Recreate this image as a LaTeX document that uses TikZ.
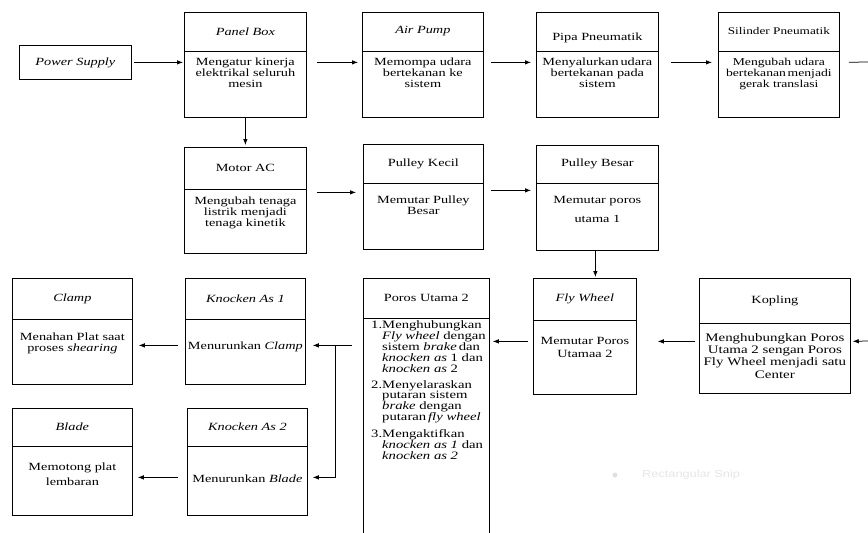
\documentclass[tikz,border=0pt]{standalone}
\usepackage{fontspec}
\setmainfont{Liberation Serif}[FakeStretch=1.3]
\newfontfamily\snipfont{Liberation Sans}[FakeStretch=1.25]
\usetikzlibrary{arrows.meta,calc}
\newcommand{\fsz}[2]{\fontsize{#1}{#2}\selectfont}
\tikzset{
  box/.style={draw, line width=0.75pt, inner sep=0pt, rectangle},
  divl/.style={line width=0.75pt},
  ttl/.style={inner sep=0pt, font=\fsz{11}{11}},
  bdy/.style={inner sep=0pt, align=center, font=\fsz{11}{11}},
  ln/.style={line width=0.75pt},
  arr/.style={line width=0.75pt, -{Latex[length=6pt,width=4.5pt]}},
}
\newcommand{\myhead}[7]{%
  \node[box, minimum width=#4, minimum height=#5, anchor=north west] (#1) at (#2,#3) {};
  \draw[divl] ([yshift=-#6]#1.north west) -- ([yshift=-#6]#1.north east);
  \node[ttl] (#1-t) at ([yshift=-#6/2]#1.north) {#7};
}
\newcommand{\mybox}[9]{%
  \myhead{#1}{#2}{#3}{#4}{#5}{#6}{#7}
  \node[bdy, anchor=north] (#1-b) at ([yshift=-#6-#9]#1.north) {#8};
}
\begin{document}
\begin{tikzpicture}[x=1pt,y=-1pt]
\useasboundingbox (0,0) rectangle (868,533);
% top row
\node[box, minimum width=112, minimum height=34, anchor=north west, font=\fsz{11}{11}\itshape] (ps) at (19,45) {Power Supply};
\mybox{panel}{184}{12}{122}{105}{39}{\textit{Panel Box}}{Mengatur kinerja\\elektrikal seluruh\\mesin}{7}
\mybox{air}{362}{12}{121}{105}{39}{\textit{Air Pump}}{Memompa udara\\bertekanan ke\\sistem}{7}
\mybox{pipa}{536}{12}{122}{105}{39}{\raisebox{-9pt}[0pt][0pt]{Pipa Pneumatik}}{Menyalurkan\,udara\\bertekanan pada\\sistem}{7}
\begin{scope}[ttl/.append style={font=\fsz{10.2}{11}}, bdy/.append style={font=\fsz{10.5}{11}}]
\mybox{sil}{718}{12}{121}{105}{39}{Silinder Pneumatik}{Mengubah udara\\bertekanan\,menjadi\\gerak translasi}{7}
\end{scope}
% middle row
\mybox{motor}{184}{147}{122}{106}{42}{Motor AC}{Mengubah tenaga\\listrik menjadi\\tenaga kinetik}{8}
\mybox{kecil}{363}{144}{120}{105}{39}{Pulley Kecil}{Memutar Pulley\\Besar}{13}
\begin{scope}[bdy/.append style={font=\fsz{11}{19}}]
\mybox{besar}{536}{145}{122}{105}{38}{Pulley Besar}{Memutar poros\\utama 1}{13}
\end{scope}
% bottom rows
\mybox{clamp}{12}{278}{120}{106}{41}{\textit{Clamp}}{Menahan Plat saat\\proses \textit{shearing}}{14}
\mybox{kone}{185}{278}{120}{106}{41}{\textit{Knocken As 1}}{Menurunkan \textit{Clamp}}{23}
\myhead{poros}{363}{278}{126}{262}{40}{Poros Utama 2}
\node[anchor=north west, inner sep=0pt, font=\fsz{11.3}{10.6}] (poros-b) at ([xshift=8pt,yshift=-42pt]poros.north west) {%
\begin{tabular}{@{}l@{}l@{}}
1.&Menghubungkan\\
&\textit{Fly wheel} dengan\\
&sistem \textit{brake}\,dan\\
&\textit{knocken as} 1 dan\\
&\textit{knocken as} 2\\[5pt]
2.&Menyelaraskan\\
&putaran sistem\\
&\textit{brake} dengan\\
&putaran\,\textit{fly wheel}\\[5pt]
3.&Mengaktifkan\\
&\textit{knocken as 1} dan\\
&\textit{knocken as 2}
\end{tabular}};
\begin{scope}[bdy/.append style={font=\fsz{11}{13}}]
\mybox{fly}{533}{278}{103}{116}{42}{\textit{Fly Wheel}}{Memutar Poros\\Utamaa 2}{17}
\end{scope}
\begin{scope}[bdy/.append style={font=\fsz{11.5}{12.3}}]
\mybox{kop}{699}{278}{151}{115}{45}{Kopling}{Menghubungkan Poros\\Utama 2 sengan Poros\\Fly Wheel menjadi satu\\Center}{10}
\end{scope}
\begin{scope}[bdy/.append style={font=\fsz{11}{15}}]
\mybox{blade}{12}{408}{120}{107}{38}{\textit{Blade}}{Memotong plat\\lembaran}{17}
\end{scope}
\mybox{ktwo}{187}{408}{120}{107}{38}{\textit{Knocken As 2}}{Menurunkan \textit{Blade}}{29}
% faint snip label
\fill[black!12] (615,475) circle (2.5);
\node[anchor=west, inner sep=0pt, text=black!10, font=\snipfont\fsz{10.2}{10}] (snip) at (642,475) {Rectangular Snip};
% connectors
\coordinate (exitR) at (868,62);
\coordinate (kopin) at (868,341);
\draw[arr, shorten <=2pt, shorten >=1pt] (ps.east) -- (ps.east -| panel.west);
\draw[arr, shorten <=10pt, shorten >=4pt] (panel.east |- ps.east) -- (air.west |- ps.east);
\draw[arr, shorten <=7pt, shorten >=5pt] (air.east |- ps.east) -- (pipa.west |- ps.east);
\draw[arr, shorten <=12pt, shorten >=6pt] (pipa.east |- ps.east) -- (sil.west |- ps.east);
\draw[ln, shorten <=9pt] (sil.east |- ps.east) -- (exitR);
\draw[arr, shorten >=2pt] (panel.south) -- (motor.north);
\draw[arr, shorten <=10pt, shorten >=7pt] ([yshift=8pt]motor.east) -- ([yshift=8pt]motor.east -| kecil.west);
\draw[arr, shorten <=7pt, shorten >=5pt] ([yshift=6.5pt]kecil.east) -- ([yshift=6.5pt]kecil.east -| besar.west);
\draw[arr, shorten >=1pt] ([xshift=-2pt]besar.south) -- ([xshift=-2pt]besar.south |- fly.north);
\coordinate (rowB) at ([yshift=-5.5pt]kop.west);
\draw[arr, shorten >=2pt] (kopin) -- (rowB -| kop.east);
\draw[arr, shorten <=4pt, shorten >=21pt] (rowB) -- (rowB -| fly.east);
\draw[arr, shorten <=5pt, shorten >=3pt] (rowB -| fly.west) -- (rowB -| poros.east);
\coordinate (rowC) at ([yshift=-14pt]kone.east);
\coordinate (jn) at ([xshift=30pt]rowC);
\coordinate (rowD) at ([yshift=-15.5pt]ktwo.east);
\draw[arr, shorten <=11pt, shorten >=7pt] (rowC -| poros.west) -- (rowC);
\draw[arr, shorten >=5pt] (jn) |- (rowD);
\draw[arr, shorten <=7pt, shorten >=6pt] (rowC -| kone.west) -- (rowC -| clamp.east);
\draw[arr, shorten <=9pt, shorten >=5pt] (rowD -| ktwo.west) -- (rowD -| blade.east);
\end{tikzpicture}
\end{document}
